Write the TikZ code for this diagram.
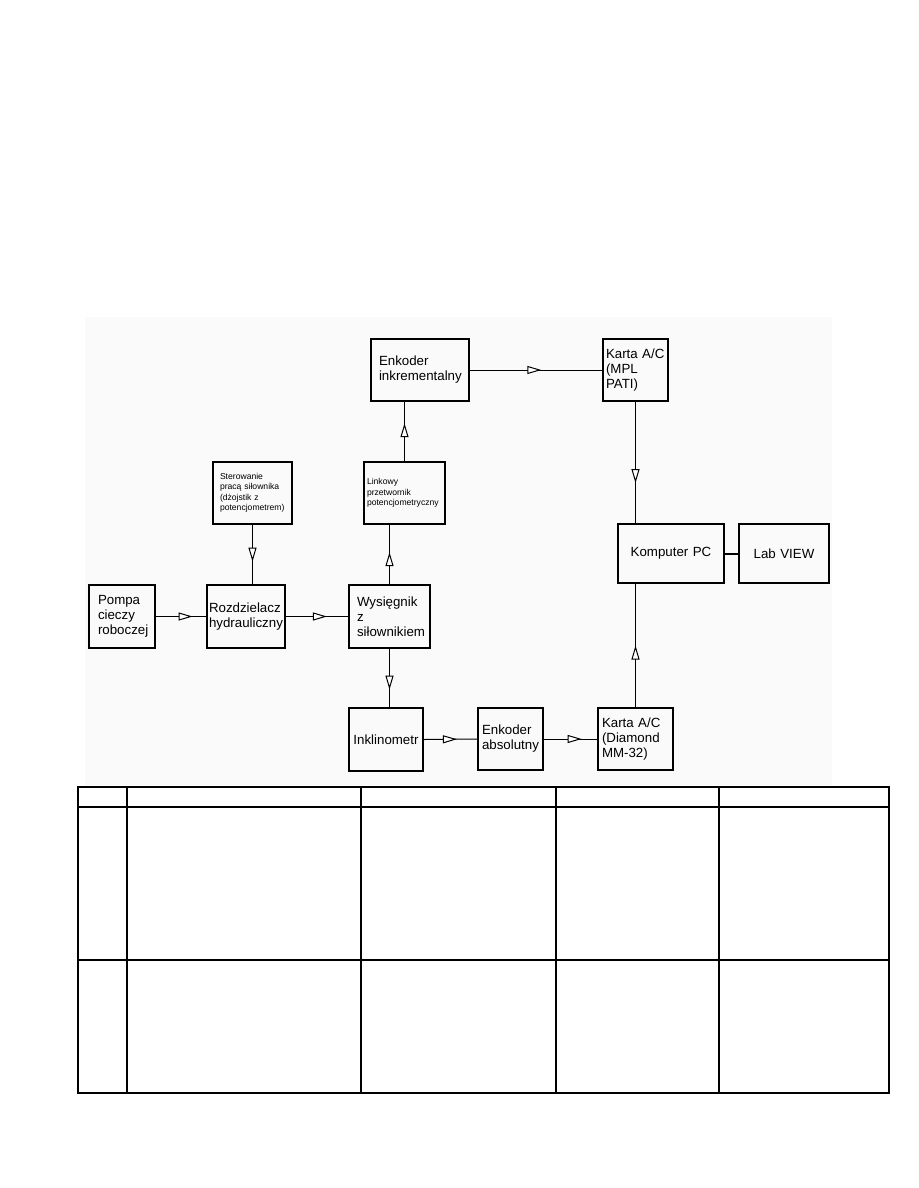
\documentclass[tikz,border=0pt]{standalone}
\usepackage{fontspec}
\setmainfont{Liberation Sans}
\usetikzlibrary{arrows.meta,decorations.markings}
\begin{document}
\begin{tikzpicture}[x=1pt,y=-1pt,
  box/.style={draw, line width=1.8pt, inner ysep=0pt, align=left, font=\fontsize{13.3}{15}\selectfont},
  smallbox/.style={box, font=\fontsize{8.6}{10.5}\selectfont},
  conn/.style={line width=1pt},
  arrowat/.style={postaction={decorate}, decoration={markings, mark=at position #1 with {\arrow{Triangle[open,fill=white,length=14pt,width=8pt,line width=1pt]}}}},
  tab/.style={line width=1.4pt}]
\useasboundingbox (0,0) rectangle (918,1188);
\fill[black!2] (85,317) rectangle (832,785);

% boxes
\node[box, text width=82pt, inner xsep=8pt, minimum height=62pt] (enk) at (420,370) {Enkoder\\inkrementalny};
\node[box, text width=59pt, inner xsep=3pt, minimum height=62pt] (karta1) at (635.5,370) {Karta A/C\\(MPL\\PATI)};
\node[box, align=center, text width=102pt, inner xsep=2pt, minimum height=59pt] (pc) at (671,553.5) {Komputer PC};
\node[box, align=center, text width=86pt, inner xsep=2pt, minimum height=59pt] (lab) at (784,553.5) {Lab VIEW};
\node[smallbox, text width=65pt, inner xsep=7pt, minimum height=62pt] (ster) at (252.5,493) {Sterowanie\\pracą siłownika\\(dżojstik z\\potencjometrem)};
\node[smallbox, text width=75pt, inner xsep=3pt, minimum height=62pt] (link) at (404.5,493) {Linkowy\\przetwornik\\potencjometryczny};
\node[box, text width=48pt, inner xsep=9pt, minimum height=63pt] (pompa) at (122,616.5) {Pompa\\cieczy\\roboczej};
\node[box, text width=74pt, inner xsep=2pt, minimum height=63pt] (rozd) at (246,616.5) {Rozdzielacz\\hydrauliczny};
\node[box, text width=65pt, inner xsep=8pt, minimum height=63pt] (wys) at (389.5,616.5) {Wysięgnik\\z\\siłownikiem};
\node[box, align=center, text width=72pt, inner xsep=1pt, minimum height=63pt] (inkl) at (386,739.5) {Inklinometr};
\node[box, text width=57pt, inner xsep=4pt, minimum height=62pt] (enkabs) at (510.5,739) {Enkoder\\absolutny};
\node[box, text width=67pt, inner xsep=4pt, minimum height=62pt] (diam) at (635.5,739) {Karta A/C\\(Diamond\\MM-32)};

% connectors
\draw[conn, arrowat=0.73] (pompa.east) -- (rozd.west);
\draw[conn, arrowat=0.66] (rozd.east) -- (wys.west);
\draw[conn, arrowat=0.62] (ster.south) -- (ster.south |- rozd.north);
\draw[conn, arrowat=0.54] (wys.north) -- (wys.north |- link.south);
\draw[conn, arrowat=0.64] (link.north) -- (link.north |- enk.south);
\draw[conn, arrowat=0.54] (enk.east) -- (karta1.west);
\draw[conn, arrowat=0.67] (karta1.south) -- (karta1.south |- pc.north);
\draw[conn, arrowat=0.70] (wys.south) -- (wys.south |- inkl.north);
\draw[conn, arrowat=0.62] (inkl.east) -- (enkabs.west);
\draw[conn, arrowat=0.71] (enkabs.east) -- (diam.west);
\draw[conn, arrowat=0.50] (diam.north) -- (diam.north |- pc.south);
\draw[line width=2pt] (pc.east) -- (lab.west);

% empty table
\draw[tab] (78,787) rectangle (889,1093);
\draw[tab] (78,807) -- (889,807);
\draw[tab] (78,960) -- (889,960);
\foreach \x in {127,361,556,719} \draw[tab] (\x,787) -- (\x,1093);
\end{tikzpicture}
\end{document}
